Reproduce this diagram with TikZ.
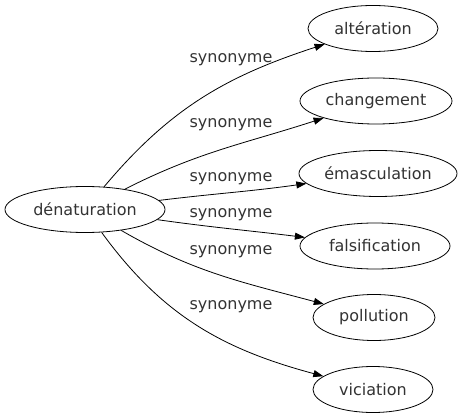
\documentclass[tikz,border=0pt]{standalone}
\usepackage{fontspec}
\setmainfont{DejaVu Sans}
\usetikzlibrary{shapes.geometric,arrows.meta}

\begin{document}
\begin{tikzpicture}[
    x=1pt, y=-1pt,
    every node/.style={font=\fontsize{16}{19}\selectfont, text=black!80},
    word/.style={
        ellipse,
        draw,
        line width=0.8pt,
        inner sep=0pt,
        minimum height=46pt
    },
    label/.style={inner sep=0pt},
    arrow/.style={-{Triangle[length=10pt,width=7pt]}, line width=0.8pt}
]
\useasboundingbox[fill=white] (0,0) rectangle (462,419);

% Nodes
\node (denaturation) [word, minimum width=160pt] at (85,209.5) {dénaturation};

\node (alteration) [word, minimum width=130pt] at (373,28.5) {altération};
\node (changement) [word, minimum width=152pt] at (376,101) {changement};
\node (emasculation) [word, minimum width=158pt] at (378,173.5) {émasculation};
\node (falsification) [word, minimum width=150pt] at (375,246) {falsification};
\node (pollution) [word, minimum width=122pt] at (374,317.5) {pollution};
\node (viciation) [word, minimum width=120pt] at (373,389.5) {viciation};

% Arrows
\draw [arrow] (denaturation) to[out=50, in=198] (alteration);
\draw [arrow] (denaturation) to[out=27, in=198] (changement);
\draw [arrow] (denaturation) to[out=7, in=188] (emasculation);
\draw [arrow] (denaturation) to[out=-8, in=173] (falsification);
\draw [arrow] (denaturation) to[out=-30, in=165] (pollution);
\draw [arrow] (denaturation) to[out=-54, in=165] (viciation);

% Labels
\node (lab1) [label] at (231,60) {synonyme};
\node (lab2) [label] at (231,125) {synonyme};
\node (lab3) [label] at (231,179) {synonyme};
\node (lab4) [label] at (231,215) {synonyme};
\node (lab5) [label] at (231,252) {synonyme};
\node (lab6) [label] at (231,307) {synonyme};

\end{tikzpicture}
\end{document}
